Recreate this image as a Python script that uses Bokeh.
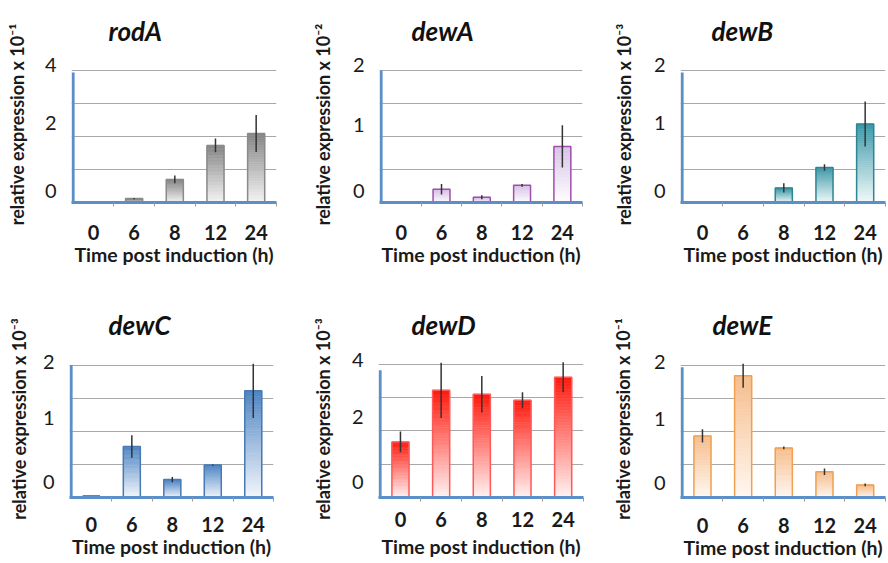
import numpy as np
from bokeh.plotting import figure
from bokeh.layouts import row, column
from bokeh.models import FixedTicker, Range1d, ColumnDataSource
from bokeh.embed import file_html
from bokeh.resources import INLINE

# ---------------- data ----------------
times = ["0", "6", "8", "12", "24"]
genes = ["rodA", "dewA", "dewB", "dewC", "dewD", "dewE"]
exponents = ["\u207b\u00b9", "\u207b\u00b2", "\u207b\u00b3", "\u207b\u00b3", "\u207b\u00b3", "\u207b\u00b9"]
y_max = [4, 2, 2, 2, 4, 2]
y_tick_labels = [["0", "2", "4"], ["0", "1", "2"], ["0", "1", "2"],
                 ["0", "1", "2"], ["0", "2", "4"], ["0", "1", "2"]]

rodA_mean = [0.02, 0.12, 0.70, 1.73, 2.09]
rodA_err = [0.0, 0.02, 0.12, 0.21, 0.56]
dewA_mean = [0.01, 0.20, 0.08, 0.26, 0.85]
dewA_err = [0.0, 0.08, 0.03, 0.02, 0.32]
dewB_mean = [0.0, 0.01, 0.22, 0.53, 1.19]
dewB_err = [0.0, 0.0, 0.07, 0.05, 0.34]
dewC_mean = [0.02, 0.77, 0.27, 0.49, 1.61]
dewC_err = [0.0, 0.17, 0.04, 0.01, 0.41]
dewD_mean = [1.67, 3.22, 3.10, 2.92, 3.61]
dewD_err = [0.31, 0.83, 0.55, 0.24, 0.45]
dewE_mean = [0.93, 1.84, 0.75, 0.39, 0.19]
dewE_err = [0.10, 0.18, 0.02, 0.05, 0.02]

means = [rodA_mean, dewA_mean, dewB_mean, dewC_mean, dewD_mean, dewE_mean]
errs = [rodA_err, dewA_err, dewB_err, dewC_err, dewD_err, dewE_err]

# ---------------- styles ----------------
FONT = "Lato"
BLUE = "#5b8fc7"
TXT = "#1a1a1a"
fill_top = ["#858585", "#d6c3e5", "#3b97a7", "#4d84c4", "#ff1a0d", "#f6bd8c"]
fill_bot = ["#f4f4f4", "#ffffff", "#f2fafb", "#f3f7fc", "#fff3f3", "#fff8f2"]
edge = ["#8a8a8a", "#a04fae", "#2f8594", "#4a7ab2", "#ff5a5a", "#f0a050"]

COL_X = [0, 298, 598]
COL_W = [298, 300, 288]
ROW_Y = [0, 280]
ROW_H = [280, 283]

# frame geometry in picture pixels: left, right, top, bottom, top gridline
geo = [
    dict(L=71, R=276, T=46, B=202, G=70, tdx=37, ax=0.985, ls=16, als=0, yls=14, yf=[0.09, 0.6, 1.038]),
    dict(L=379, R=582, T=46, B=202, G=70, tdx=32, ax=1.0, ls=16, als=0, yls=16, yf=[0.09, 0.585, 1.038]),
    dict(L=680, R=885, T=46, B=202, G=70, tdx=31, ax=0.985, ls=16, als=0, yls=16, yf=[0.09, 0.6, 1.038]),
    dict(L=69, R=273, T=338, B=498, G=363, tdx=39, ax=1.0, ls=13, als=0, yls=10, yf=[0.118, 0.6, 1.022]),
    dict(L=378, R=583, T=340, B=498, G=364, tdx=33, ax=0.955, ls=8, als=5, yls=15, yf=[0.118, 0.604, 1.03]),
    dict(L=680, R=885, T=338, B=497, G=363, tdx=32, ax=0.985, ls=14, als=0, yls=17, yf=[0.112, 0.597, 1.022]),
]


def mix(c0, c1, t):
    a = [int(c0[i:i + 2], 16) for i in (1, 3, 5)]
    b = [int(c1[i:i + 2], 16) for i in (1, 3, 5)]
    return "#%02x%02x%02x" % tuple(int(round(a[k] + (b[k] - a[k]) * t)) for k in range(3))


def make_panel(i):
    g = geo[i]
    col, rw = i % 3, i // 3
    x0, y0, W, H = COL_X[col], ROW_Y[rw], COL_W[col], ROW_H[rw]
    ymax = y_max[i]
    ppu = (g["B"] - g["G"]) / ymax
    y_end = (g["B"] - g["T"]) / ppu

    p = figure(width=W, height=H, x_range=Range1d(-0.04, 5), y_range=Range1d(0, y_end),
               output_backend="svg", toolbar_location=None,
               min_border_left=g["L"] - x0, min_border_right=x0 + W - g["R"],
               min_border_top=g["T"] - y0, min_border_bottom=y0 + H - g["B"])
    p.outline_line_color = None
    p.background_fill_color = "white"
    p.border_fill_color = "white"

    xc = np.arange(len(times)) + 0.5
    m = np.array(means[i], dtype=float)
    e = np.array(errs[i], dtype=float)

    # gradient bars made of thin slices
    n = 40
    L, R, Bo, To, C = [], [], [], [], []
    for k in range(len(times)):
        for j in range(n):
            L.append(xc[k] - 0.21)
            R.append(xc[k] + 0.21)
            Bo.append(m[k] * j / n)
            To.append(m[k] * (j + 1) / n)
            C.append(mix(fill_bot[i], fill_top[i], (j + 0.5) / n))
    src = ColumnDataSource(dict(left=L, right=R, bottom=Bo, top=To, color=C))
    p.quad(left="left", right="right", bottom="bottom", top="top", fill_color="color",
           line_color="color", line_width=0.6, source=src)
    p.vbar(x=xc, width=0.42, top=m, bottom=0, fill_color=None, line_color=edge[i], line_width=1.5)
    p.segment(x0=xc, y0=m - e, x1=xc, y1=m + e, line_color="#333333", line_width=1.5)

    # blue vertical axis line
    p.segment(x0=[0], y0=[0], x1=[0], y1=[ymax * g["ax"]], line_color=BLUE, line_width=3)

    # grid
    p.xgrid.visible = False
    p.ygrid.ticker = FixedTicker(ticks=[ymax * k / 4 for k in range(1, 5)])
    p.ygrid.grid_line_color = "#a8a8a8"
    p.ygrid.grid_line_width = 1

    # y axis (labels only)
    ypos = [ymax * f for f in g["yf"]]
    p.yaxis.ticker = FixedTicker(ticks=ypos, minor_ticks=[])
    p.yaxis.major_label_overrides = {ypos[k]: y_tick_labels[i][k] for k in range(3)}
    p.yaxis.axis_line_color = None
    p.yaxis.major_tick_line_color = None
    p.yaxis.minor_tick_line_color = None
    p.yaxis.major_label_text_font = FONT
    p.yaxis.major_label_text_font_size = "20px"
    p.yaxis.major_label_text_color = TXT
    p.yaxis.major_label_standoff = 9
    p.yaxis.axis_label = "relative expression x 10" + exponents[i]
    p.yaxis.axis_label_text_font = FONT
    p.yaxis.axis_label_text_font_style = "bold"
    p.yaxis.axis_label_text_font_size = "18px"
    p.yaxis.axis_label_text_color = TXT
    p.yaxis.axis_label_standoff = g["yls"]

    # x axis
    p.xaxis.ticker = FixedTicker(ticks=list(xc), minor_ticks=[1, 2, 3, 4, 5])
    p.xaxis.major_label_overrides = {float(xc[k]): times[k] for k in range(len(times))}
    p.xaxis.axis_line_color = BLUE
    p.xaxis.axis_line_width = 3
    p.xaxis.major_tick_line_color = None
    p.xaxis.minor_tick_line_color = "#9a9a9a"
    p.xaxis.minor_tick_in = 0
    p.xaxis.minor_tick_out = 4
    p.xaxis.major_label_text_font = FONT
    p.xaxis.major_label_text_font_style = "bold"
    p.xaxis.major_label_text_font_size = "20px"
    p.xaxis.major_label_text_color = TXT
    p.xaxis.major_label_standoff = g["ls"]
    p.xaxis.axis_label = "Time post induction (h)"
    p.xaxis.axis_label_text_font = FONT
    p.xaxis.axis_label_text_font_style = "bold"
    p.xaxis.axis_label_text_font_size = "19.5px"
    p.xaxis.axis_label_text_color = TXT
    p.xaxis.axis_label_standoff = g["als"]

    # title
    p.title.text = genes[i]
    p.title.align = "left"
    p.title.offset = g["tdx"]
    p.title.standoff = 0
    p.title.text_font = FONT
    p.title.text_font_style = "bold italic"
    p.title.text_font_size = "26px"
    p.title.text_color = "#111111"
    p.title.vertical_align = "bottom"
    return p


figs = [make_panel(i) for i in range(6)]
layout = column(row(figs[0], figs[1], figs[2]), row(figs[3], figs[4], figs[5]))

open("out.html", "w").write(file_html(layout, INLINE))
